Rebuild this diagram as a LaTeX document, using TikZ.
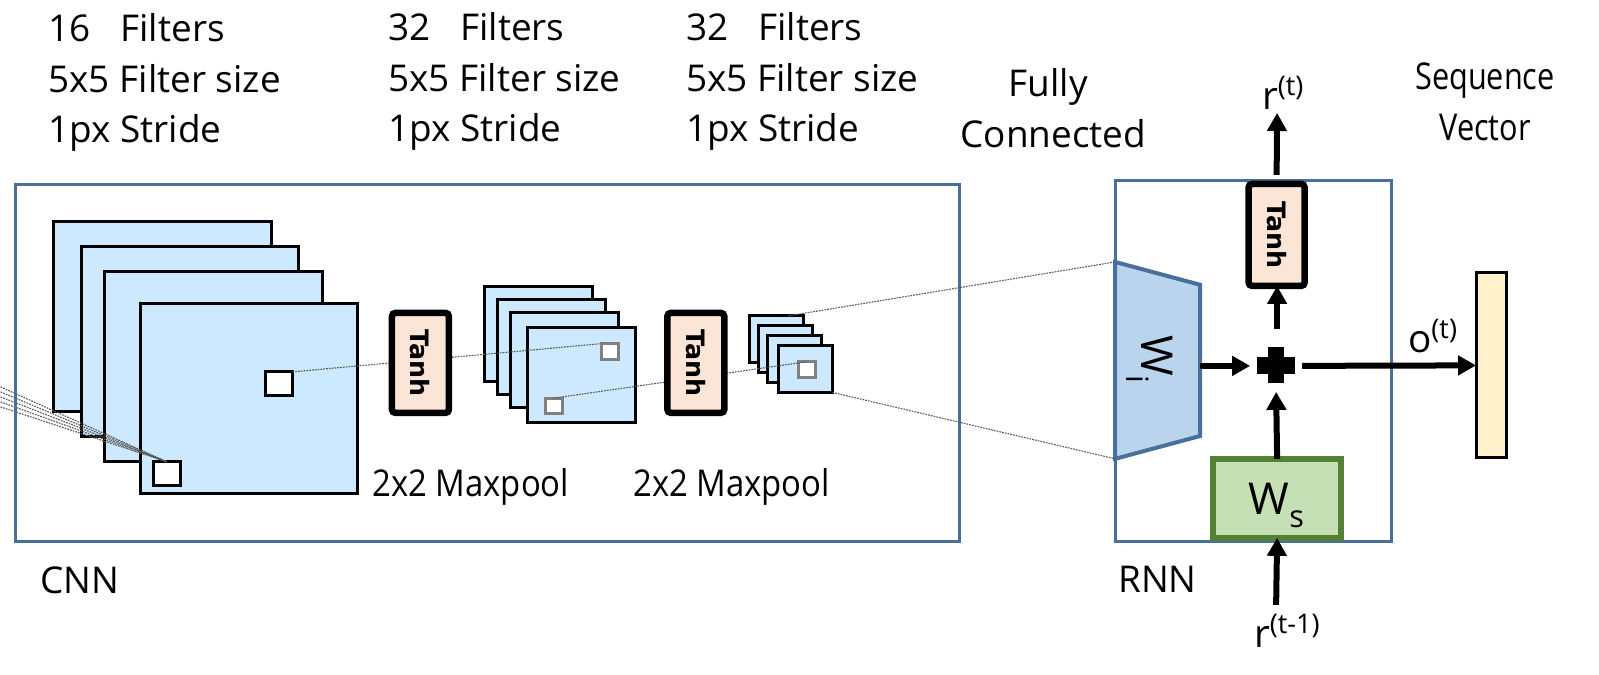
\documentclass[tikz,border=0pt]{standalone}
\usepackage{fontspec}
\setmainfont{Open Sans}
\newfontfamily\tanhfont{DejaVu Sans}
\usetikzlibrary{shapes.geometric,positioning,arrows.meta}
\definecolor{framecol}{HTML}{48709A}
\definecolor{mapcol}{HTML}{CCE9FF}
\definecolor{tanhcol}{HTML}{FBE5D6}
\definecolor{wicol}{HTML}{BAD4EE}
\definecolor{wscol}{HTML}{C5E0B4}
\definecolor{wsline}{HTML}{548235}
\definecolor{veccol}{HTML}{FFF2CC}
\newcommand{\cnt}[1]{\makebox[0.72cm][l]{#1}}
\newcommand{\lowsub}[1]{\smash{\raisebox{-0.3ex}{\textsubscript{#1}}}}

\begin{document}
\begin{tikzpicture}
        [x=0.01cm, y=-0.01cm,
        every node/.style={inner sep=0pt, outer sep=0pt},
        txt/.style={font=\fontsize{10.5}{14.5}\selectfont},
        txtn/.style={txt, xscale=0.89},
        sup/.style={font=\fontsize{11}{14}\selectfont},
        map/.style={draw, line width=0.03cm, fill=mapcol},
        mapa/.style={map, minimum width=2.17cm, minimum height=1.90cm},
        mapb/.style={map, minimum width=1.08cm, minimum height=0.95cm},
        mapc/.style={map, minimum width=0.54cm, minimum height=0.47cm},
        patch/.style={draw, fill=white, line width=0.03cm, minimum width=0.27cm, minimum height=0.24cm},
        patchg/.style={draw=gray, fill=white, line width=0.03cm, minimum width=0.17cm, minimum height=0.155cm},
        tanh/.style={draw, line width=0.065cm, fill=tanhcol, rounded corners=1pt, rotate=-90,
                minimum width=1cm, minimum height=0.57cm, font=\tanhfont\bfseries\fontsize{7.2}{8}\selectfont},
        frame/.style={draw=framecol, line width=0.03cm},
        flow/.style={line width=0.06cm, -{Triangle[length=0.18cm,width=0.19cm]}},
        dotline/.style={gray!70!black, line width=0.011cm, dash pattern=on 0.5pt off 0.3pt}]
        
        % first maps
        \node [mapa] (a1) at (162,316.5) {};
        \node [mapa] (a2) at ([shift={(27.5,25)}]a1.center) {};
        \node [mapa] (a3) at ([shift={(23.5,25)}]a2.center) {};
        \node [mapa] (a4) at ([shift={(35.5,32.5)}]a3.center) {};
        \node [patch] (pa) at (166.5,474) {};
        \node [patch] (pb) at (278.5,384) {};
        
        % second maps
        \node [mapb] (b1) at (538,334.5) {};
        \node [mapb] (b2) at ([shift={(13,12.5)}]b1.center) {};
        \node [mapb] (b3) at ([shift={(13,13)}]b2.center) {};
        \node [mapb] (b4) at ([shift={(17.5,15.5)}]b3.center) {};
        \node [patchg] (pc) at (609.5,351.5) {};
        \node [patchg] (pd) at (553.5,406) {};
        
        % third maps
        \node [mapc] (c1) at (776,339.5) {};
        \node [mapc] (c2) at ([shift={(9,10)}]c1.center) {};
        \node [mapc] (c3) at ([shift={(9,9.5)}]c2.center) {};
        \node [mapc] (c4) at ([shift={(11,10)}]c3.center) {};
        \node [patchg] (pe) at (807,369.5) {};
        
        % dotted lines
        \foreach \y in {387,392,397,402,407} {
                \coordinate (fan\y) at (0,\y);
                \draw [dotline] (fan\y) -- (pa.north);
        }
        \draw [dotline] (pb.north east) -- (pc.north west);
        \draw [dotline] (pd.north) -- (pe.north);
        
        \node [frame, minimum width=9.443cm, minimum height=3.57cm] (cnn) at (487,363.5) {};
        \node [frame, minimum width=2.76cm, minimum height=3.61cm] (rnn) at (1253,361.5) {};
        
        \node [tanh] (t1) at (420,363) {Tanh};
        \node [tanh] (t2) at (695.5,363) {Tanh};
        \node [tanh, minimum width=1.02cm, minimum height=0.56cm] (t3) at (1276.5,235) {Tanh};
        
        % fully connected part
        \node [draw=framecol, line width=0.04cm, fill=wicol, trapezium, trapezium stretches=true, rotate=-90,
                minimum width=1.97cm, minimum height=0.85cm, trapezium angle=76.4,
                font=\fontsize{12.5}{14}\selectfont] (wi) at (1157.5,360.5) {W\lowsub{i}};
        \draw [dotline] ([xshift=0.12cm]c1.north) -- (wi.bottom left corner);
        \draw [dotline] (c4.south east) -- (wi.bottom right corner);
        
        \node [draw=wsline, line width=0.06cm, fill=wscol, minimum width=1.28cm, minimum height=0.79cm,
                font=\fontsize{12.5}{14}\selectfont] (ws) at (1277,498.5) {W\lowsub{s}};
        \node [fill=black, minimum width=0.38cm, minimum height=0.17cm] (plus) at (1276,366) {};
        \node [fill=black, minimum width=0.16cm, minimum height=0.36cm] (plusv) at (1276,365) {};
        \node [draw, line width=0.03cm, fill=veccol, minimum width=0.30cm, minimum height=1.85cm] (vec) at (1491,365.5) {};
        
        \coordinate (rout) at (1277,113);
        \coordinate (rin) at (1276,605);
        
        \draw [flow] (t3.west |- rout) ++(0,62) -- (rout);
        \draw [flow, shorten <=0.08cm] (plusv) ++(1,-28) -- (t3.east -| rout);
        \draw [flow, shorten >=0.07cm] (wi.north |- plus) -- (plus.west);
        \draw [flow, shorten <=0.07cm] (plus.east) -- (vec.west);
        \draw [flow] (ws.north) -- ([yshift=-0.09cm]plusv.south);
        \draw [flow] (rin) -- (ws.south);
        
        % labels
        \node [txt, align=left, anchor=north west] (la) at (48,13) {\cnt{16}Filters\\5x5 Filter size\\1px Stride};
        \node [txt, align=left, anchor=north west] (lb) at (388,12) {\cnt{32}Filters\\5x5 Filter size\\1px Stride};
        \node [txt, align=left, anchor=north west] (lc) at (686,12) {\cnt{32}Filters\\5x5 Filter size\\1px Stride};
        \node [txtn, anchor=base west] (ma) at (372,497) {2x2 Maxpool};
        \node [txtn, anchor=base west] (mb) at (633,497) {2x2 Maxpool};
        \node [txt, anchor=base] (fa) at (1048,97) {Fully};
        \node [txt, anchor=base] (fb) at (1053,148) {Connected};
        \node [txt, xscale=0.83, anchor=base] (sa) at (1485,90) {Sequence};
        \node [txt, xscale=0.83, anchor=base] (sb) at (1485,141) {Vector};
        \node [txt, anchor=base west] (lcnn) at (40,594) {CNN};
        \node [txt, anchor=base west] (lrnn) at (1118,593) {RNN};
        \node [sup, anchor=base west] (lr) at (1262,110) {r\textsuperscript{(t)}};
        \node [sup, anchor=base west] (lo) at (1408,353) {o\textsuperscript{(t)}};
        \node [sup, anchor=base west] (lp) at (1254,648) {r\textsuperscript{(t-1)}};
        
        \useasboundingbox (0,0) rectangle (1599,675);
        \end{tikzpicture}
\end{document}
